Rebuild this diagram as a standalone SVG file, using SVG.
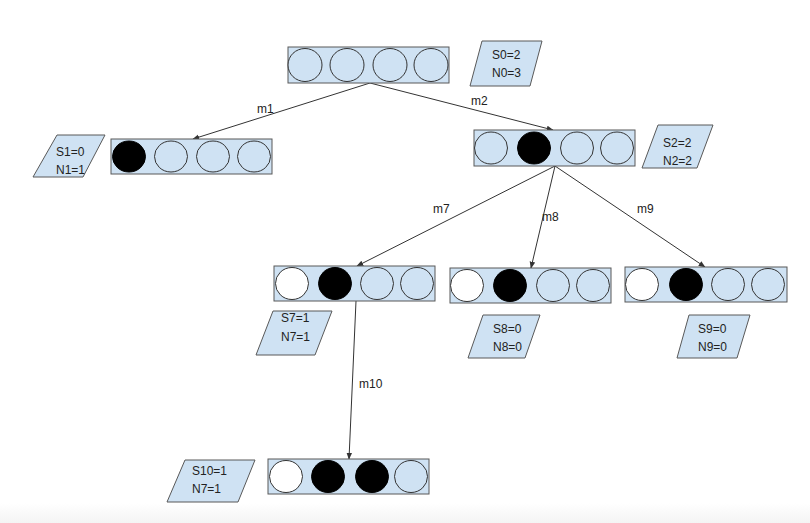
<svg xmlns="http://www.w3.org/2000/svg" width="810" height="523" viewBox="0 0 810 523">
<style>
.box{fill:#cfe2f3;stroke:#595959;stroke-width:1}
.c{fill:#cfe2f3;stroke:#333;stroke-width:1}
.k{fill:#000;stroke:#000;stroke-width:1}
.w{fill:#fff;stroke:#333;stroke-width:1}
.p{fill:#cfe2f3;stroke:#595959;stroke-width:1}
text{font-family:"Liberation Sans",Arial,sans-serif;font-size:12px;fill:#222}
.e{stroke:#333;stroke-width:1;fill:none;marker-end:url(#a)}
</style>
<defs>
<marker id="a" viewBox="0 0 10 10" refX="9" refY="5" markerWidth="7" markerHeight="7" orient="auto" markerUnits="userSpaceOnUse"><path d="M0,1 L10,5 L0,9 z" fill="#333"/></marker>
<linearGradient id="bg" x1="0" y1="0" x2="0" y2="1"><stop offset="0" stop-color="#fff"/><stop offset="1" stop-color="#f4f4f4"/></linearGradient>
</defs>
<rect x="0" y="0" width="810" height="523" fill="#fff"/>
<rect x="0" y="503" width="810" height="20" fill="url(#bg)"/>
<g id="connectors">
<line class="e" x1="370" y1="83" x2="193" y2="139"/>
<line class="e" x1="370" y1="83" x2="553" y2="130"/>
<line class="e" x1="555" y1="166" x2="357" y2="266"/>
<line class="e" x1="555" y1="166" x2="531" y2="268"/>
<line class="e" x1="555" y1="166" x2="705" y2="267"/>
<line class="e" x1="356" y1="301" x2="349" y2="459"/>
<text x="257" y="113">m1</text>
<text x="471" y="105">m2</text>
<text x="433" y="213">m7</text>
<text x="542" y="221">m8</text>
<text x="637" y="213">m9</text>
<text x="359" y="388">m10</text>
</g>
<g id="n0">
<rect class="box" x="288" y="47" width="161" height="36"/>
<ellipse class="c" cx="305" cy="65" rx="17" ry="16.5"/>
<ellipse class="c" cx="347" cy="65" rx="17" ry="16.5"/>
<ellipse class="c" cx="390" cy="65" rx="17" ry="16.5"/>
<ellipse class="c" cx="431" cy="65" rx="17" ry="16.5"/>
</g>
<g id="s0">
<polygon class="p" points="482,41 542,41 530,86 470,86"/>
<text x="492" y="59">S0=2</text>
<text x="492" y="77">N0=3</text>
</g>
<g id="n1">
<rect class="box" x="111" y="139" width="161" height="35"/>
<ellipse class="k" cx="129" cy="156.5" rx="16.5" ry="15.5"/>
<ellipse class="c" cx="171" cy="156.5" rx="16.5" ry="15.5"/>
<ellipse class="c" cx="213" cy="156.5" rx="16.5" ry="15.5"/>
<ellipse class="c" cx="254" cy="156.5" rx="16.5" ry="15.5"/>
</g>
<g id="s1">
<polygon class="p" points="57,135 105,135 83,177 33,177"/>
<text x="56" y="156">S1=0</text>
<text x="56" y="174">N1=1</text>
</g>
<g id="n2">
<rect class="box" x="474" y="130" width="161" height="36"/>
<ellipse class="c" cx="491" cy="148" rx="16.5" ry="16"/>
<ellipse class="k" cx="534" cy="148" rx="16.5" ry="16"/>
<ellipse class="c" cx="577" cy="148" rx="16.5" ry="16"/>
<ellipse class="c" cx="617" cy="148" rx="16.5" ry="16"/>
</g>
<g id="s2">
<polygon class="p" points="658,125 713,125 697,168 642,168"/>
<text x="663" y="147">S2=2</text>
<text x="663" y="165">N2=2</text>
</g>
<g id="n7">
<rect class="box" x="274" y="266" width="161" height="35"/>
<ellipse class="w" cx="292" cy="283.5" rx="16.5" ry="16"/>
<ellipse class="k" cx="335" cy="283.5" rx="16.5" ry="16"/>
<ellipse class="c" cx="377" cy="283.5" rx="16.5" ry="16"/>
<ellipse class="c" cx="417" cy="283.5" rx="16.5" ry="16"/>
</g>
<g id="s7">
<polygon class="p" points="273,311 332,311 315,355 256,355"/>
<text x="281" y="322">S7=1</text>
<text x="281" y="341">N7=1</text>
</g>
<g id="n8">
<rect class="box" x="450" y="268" width="161" height="35"/>
<ellipse class="w" cx="467" cy="285.5" rx="16.5" ry="16"/>
<ellipse class="k" cx="510" cy="285.5" rx="16.5" ry="16"/>
<ellipse class="c" cx="553" cy="285.5" rx="16.5" ry="16"/>
<ellipse class="c" cx="593" cy="285.5" rx="16.5" ry="16"/>
</g>
<g id="s8">
<polygon class="p" points="483,315 540,315 525,358 468,358"/>
<text x="493" y="333">S8=0</text>
<text x="493" y="351">N8=0</text>
</g>
<g id="n9">
<rect class="box" x="625" y="267" width="162" height="35"/>
<ellipse class="w" cx="642" cy="284.5" rx="16.5" ry="16"/>
<ellipse class="k" cx="686" cy="284.5" rx="16.5" ry="16"/>
<ellipse class="c" cx="728" cy="284.5" rx="16.5" ry="16"/>
<ellipse class="c" cx="768" cy="284.5" rx="16.5" ry="16"/>
</g>
<g id="s9">
<polygon class="p" points="689,315 750,315 737,358 677,358"/>
<text x="698" y="333">S9=0</text>
<text x="698" y="351">N9=0</text>
</g>
<g id="n10">
<rect class="box" x="268" y="459" width="161" height="35"/>
<ellipse class="w" cx="286" cy="476.5" rx="16.5" ry="16"/>
<ellipse class="k" cx="328" cy="476.5" rx="16.5" ry="16"/>
<ellipse class="k" cx="372" cy="476.5" rx="16.5" ry="16"/>
<ellipse class="c" cx="411" cy="476.5" rx="16.5" ry="16"/>
</g>
<g id="s10">
<polygon class="p" points="185,460 255,460 238,502 167,502"/>
<text x="192" y="475">S10=1</text>
<text x="192" y="493">N7=1</text>
</g>
</svg>
